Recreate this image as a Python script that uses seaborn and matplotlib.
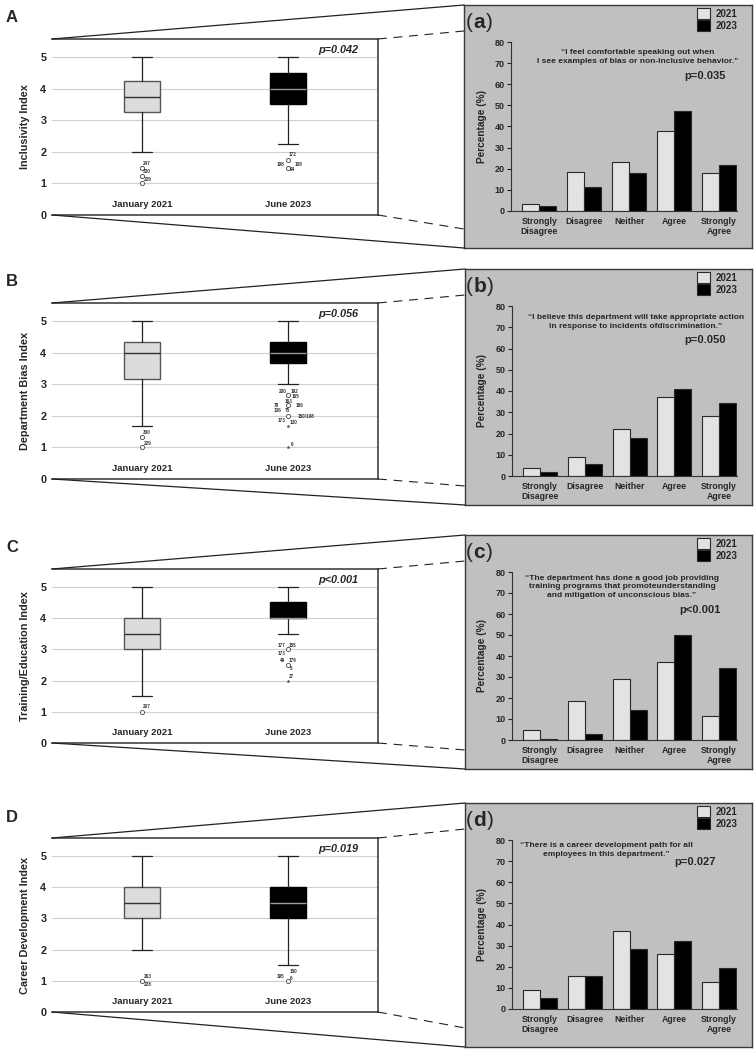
import matplotlib
matplotlib.use('Agg')
import matplotlib.pyplot as plt
from matplotlib.lines import Line2D
import seaborn as sns
import pandas as pd

sns.set_style('white')
plt.rcParams['font.family'] = ['Liberation Sans', 'DejaVu Sans']

W, H = 755, 1052

# ---- data ----
responses = ['Strongly\nDisagree', 'Disagree', 'Neither', 'Agree', 'Strongly\nAgree']
years = ['2021', '2023']
groups = ['January 2021', 'June 2023']

a_2021 = [3.2, 18.6, 23.0, 38.0, 18.0]
a_2023 = [2.5, 11.5, 18.1, 47.2, 21.6]
b_2021 = [3.8, 9.0, 22.2, 37.0, 28.3]
b_2023 = [1.8, 5.7, 18.0, 40.8, 34.4]
c_2021 = [4.6, 18.8, 29.2, 37.2, 11.2]
c_2023 = [0.3, 2.7, 14.1, 49.8, 34.2]
d_2021 = [8.8, 15.5, 37.1, 25.9, 12.6]
d_2023 = [5.0, 15.5, 28.5, 32.0, 19.6]

quotes = [
    '\u201cI feel comfortable speaking out when\nI see examples of bias or non-inclusive behavior.\u201d',
    '\u201cI believe this department will take appropriate action\nin response to incidents ofdiscrimination.\u201d',
    '\u201cThe department has done a good job providing\ntraining programs that promoteunderstanding\nand mitigation of unconscious bias.\u201d',
    '\u201cThere is a career development path for all\nemployees in this department.\u201d',
]
bar_p = ['p=0.035', 'p=0.050', 'p<0.001', 'p=0.027']

index_names = ['Inclusivity Index', 'Department Bias Index',
               'Training/Education Index', 'Career Development Index']
box_p = ['p=0.042', 'p=0.056', 'p<0.001', 'p=0.019']

# whislo, q1, median, q3, whishi
jan_stats = [[2.0, 3.25, 3.75, 4.25, 5.0], [1.67, 3.17, 4.0, 4.33, 5.0],
             [1.5, 3.0, 3.5, 4.0, 5.0], [2.0, 3.0, 3.5, 4.0, 5.0]]
jun_stats = [[2.25, 3.5, 4.0, 4.5, 5.0], [3.0, 3.67, 4.0, 4.33, 5.0],
             [3.5, 4.0, 4.0, 4.5, 5.0], [1.5, 3.0, 3.5, 4.0, 5.0]]
# outliers (circles) and extremes (stars)
jan_out = [[1.5, 1.25, 1.0], [1.33, 1.0], [1.0], [1.0]]
jun_out = [[1.75, 1.5], [2.67, 2.33, 2.0], [3.0, 2.5], [1.0]]
jun_ext = [[], [1.67, 1.0], [2.0], []]

# case numbers next to outliers: (group, value, id)
case_ids = [
    [(0, 1.5, '247'), (0, 1.25, '330'), (0, 1.0, '229'),
     (1, 1.75, '172'), (1, 1.5, '198'), (1, 1.5, '109'), (1, 1.5, '94')],
    [(0, 1.33, '300'), (0, 1.0, '229'),
     (1, 2.67, '200'), (1, 2.67, '192'), (1, 2.67, '165'),
     (1, 2.33, '78'), (1, 2.33, '163'), (1, 2.33, '186'),
     (1, 2.0, '136'), (1, 2.0, '75'), (1, 2.0, '150/198'), (1, 2.0, '173'), (1, 2.0, '130'),
     (1, 1.0, '6')],
    [(0, 1.0, '207'),
     (1, 3.0, '177'), (1, 3.0, '155'), (1, 3.0, '173'),
     (1, 2.5, '49'), (1, 2.5, '179'), (1, 2.5, '5'), (1, 2.0, '27')],
    [(0, 1.0, '263'), (0, 1.0, '228'),
     (1, 1.0, '195'), (1, 1.0, '150'), (1, 1.0, '6')],
]
# label offsets in pixels (dx, dy)
case_offsets = [
    [(5, 4), (5, 4), (5, 4), (5, 5), (-7, 3), (11, 3), (5, -2)],
    [(5, 4), (5, 4), (-5, 3), (7, 3), (8, -2), (-11, 0), (1, 4), (12, 0),
     (-10, 5), (0, 5), (18, -1), (-6, -5), (6, -7), (4, 3)],
    [(5, 5), (-6, 4), (5, 4), (-6, -4), (-5, 4), (5, 4), (3, -4), (4, 4)],
    [(6, 4), (6, -4), (-7, 4), (6, 9), (3, 2)],
]

bar_sets = [(a_2021, a_2023), (b_2021, b_2023), (c_2021, c_2023), (d_2021, d_2023)]

# ---- layout (pixels: left, top, right, bottom) ----
gray_px = [(464, 5, 752, 248), (465, 269, 752, 505), (465, 535, 752, 769), (465, 803, 752, 1047)]
box_px = [(52, 39, 378, 215), (52, 303, 378, 479), (52, 569, 378, 743), (52, 838, 378, 1012)]
bar_px = [(511, 42, 737, 211), (512, 306, 737, 476), (512, 572, 737, 740), (512, 840, 737, 1009)]
quote_xy = [(638, 57), (636, 322), (622, 587), (606, 850)]
pbar_xy = [(705, 76), (705, 340), (700, 610), (695, 862)]
letters = ['A', 'B', 'C', 'D']
subletters = ['a', 'b', 'c', 'd']


def rect(p):
    l, t, r, b = p
    return [l / W, 1 - b / H, (r - l) / W, (b - t) / H]


def fx(x):
    return x / W


def fy(y):
    return 1 - y / H


fig = plt.figure(figsize=(W / 100, H / 100), dpi=100)
renderer = fig.canvas.get_renderer()
px2pt = 0.72

for i in range(4):
    # ---------- box plot panel ----------
    ax = fig.add_axes(rect(box_px[i]))
    stats = []
    for s in (jan_stats[i], jun_stats[i]):
        stats.append(dict(whislo=s[0], q1=s[1], med=s[2], q3=s[3], whishi=s[4], fliers=[]))
    bp = ax.bxp(stats, positions=[0, 1], widths=0.25, capwidths=0.14, patch_artist=True,
                showfliers=False,
                whiskerprops=dict(color='#222222', lw=0.9),
                capprops=dict(color='#222222', lw=0.9),
                medianprops=dict(lw=1.0))
    bp['boxes'][0].set(facecolor='#dcdcdc', edgecolor='#555555', lw=1.0)
    bp['boxes'][1].set(facecolor='#000000', edgecolor='#000000', lw=1.0)
    bp['medians'][0].set_color('#333333')
    bp['medians'][1].set_color('#9a9a9a')

    ax.plot([0] * len(jan_out[i]), jan_out[i], 'o', ms=3, mfc='white', mec='#444444', mew=0.6)
    ax.plot([1] * len(jun_out[i]), jun_out[i], 'o', ms=3, mfc='white', mec='#444444', mew=0.6)
    if jun_ext[i]:
        ax.plot([1] * len(jun_ext[i]), jun_ext[i], '*', ms=2.2, color='#555555', mew=0.3)
    for (g, v, t), (dx, dy) in zip(case_ids[i], case_offsets[i]):
        ax.annotate(t, (g, v), xytext=(dx * px2pt, dy * px2pt), textcoords='offset points',
                    ha='center', va='center', fontsize=3.3, fontweight='bold', color='#333333')

    ax.set_xlim(-0.62, 1.62)
    ax.set_ylim(0, 5.57)
    ax.set_yticks(range(6))
    ax.set_xticks([])
    ax.yaxis.grid(True, color='#cfcfcf', lw=0.8)
    ax.set_axisbelow(True)
    ax.tick_params(axis='y', length=0, pad=4, labelsize=7.8)
    for lab in ax.get_yticklabels():
        lab.set_fontweight('bold')
    ax.spines['left'].set_visible(False)
    for sp in ['top', 'right', 'bottom']:
        ax.spines[sp].set_color('#333333')
        ax.spines[sp].set_linewidth(1.1)
    for g, name in enumerate(groups):
        ax.text(g, 0.33, name, ha='center', va='center', fontsize=6.8, fontweight='bold')
    ax.text(0.877, 0.937, box_p[i], transform=ax.transAxes, ha='center', va='center',
            fontsize=7.8, fontweight='bold', fontstyle='italic')

    l, t, r, b = box_px[i]
    fig.text(fx(25), fy((t + b) / 2), index_names[i], rotation=90, ha='center', va='center',
             fontsize=7.8, fontweight='bold')
    fig.text(fx(12), fy(t - 21), letters[i], ha='center', va='center', fontsize=12, fontweight='bold')

    # ---------- gray background panel ----------
    gl, gt, gr, gb = gray_px[i]
    bg = fig.add_axes(rect(gray_px[i]), zorder=0)
    bg.set_facecolor('#c0c0c0')
    bg.set_xticks([])
    bg.set_yticks([])
    for sp in bg.spines.values():
        sp.set_color('#3a3a3a')
        sp.set_linewidth(1.0)

    # ---------- bar chart ----------
    bx = fig.add_axes(rect(bar_px[i]), zorder=1)
    bx.set_facecolor('none')
    v21, v23 = bar_sets[i]
    df = pd.DataFrame({'resp': responses * 2,
                       'year': ['2021'] * 5 + ['2023'] * 5,
                       'pct': list(v21) + list(v23)})
    sns.barplot(data=df, x='resp', y='pct', hue='year', order=responses, hue_order=years,
                palette={'2021': '#e3e3e3', '2023': '#000000'}, edgecolor='#2a2a2a',
                linewidth=0.8, width=0.76, errorbar=None, ax=bx)
    handles, labels = bx.get_legend_handles_labels()
    bx.get_legend().remove()
    fig.legend(handles, labels, loc='upper right', bbox_to_anchor=(fx(737), fy(gt + 3)),
               frameon=False, handlelength=1.35, handleheight=1.35, labelspacing=0.15,
               handletextpad=0.5, borderaxespad=0, borderpad=0,
               prop=dict(weight='bold', size=7))
    bx.set_xlim(-0.63, 4.4)
    bx.set_ylim(0, 80)
    bx.set_yticks(range(0, 81, 10))
    bx.set_xlabel('')
    bx.set_ylabel('')
    sns.despine(ax=bx)
    for sp in ['left', 'bottom']:
        bx.spines[sp].set_color('#333333')
        bx.spines[sp].set_linewidth(0.8)
    bx.tick_params(axis='y', length=3, width=0.8, pad=1.5, labelsize=6.5, left=True)
    bx.tick_params(axis='x', length=0, pad=4, labelsize=6.3)
    for lab in bx.get_yticklabels() + bx.get_xticklabels():
        lab.set_fontweight('bold')
    bl, bt, br, bb = bar_px[i]
    fig.text(fx(482), fy((bt + bb) / 2), 'Percentage (%)', rotation=90, ha='center', va='center',
             fontsize=7.3, fontweight='bold')
    # "(a)": light parentheses around a bold letter
    fig.text(fx(473), fy(gt + 18), '(', ha='right', va='center', fontsize=15)
    let = fig.text(fx(473.5), fy(gt + 18), subletters[i], ha='left', va='center', fontsize=15,
                   fontweight='bold')
    x_end = let.get_window_extent(renderer).x1
    fig.text(x_end / W + 0.5 / W, fy(gt + 18), ')', ha='left', va='center', fontsize=15)
    fig.text(fx(quote_xy[i][0]), fy(quote_xy[i][1]), quotes[i], ha='center', va='center',
             multialignment='center', fontsize=6, fontweight='bold', linespacing=1.25)
    fig.text(fx(pbar_xy[i][0]), fy(pbar_xy[i][1]), bar_p[i], ha='center', va='center',
             fontsize=8, fontweight='bold')

    # ---------- zoom connector lines ----------
    fig.add_artist(Line2D([fx(l), fx(gl)], [fy(t), fy(gt)], color='#222222', lw=0.9))
    fig.add_artist(Line2D([fx(l), fx(gl)], [fy(b), fy(gb)], color='#222222', lw=0.9))
    fig.add_artist(Line2D([fx(r), fx(gl)], [fy(t), fy(gt + 26)], color='#222222', lw=0.8,
                          ls=(0, (8, 6))))
    fig.add_artist(Line2D([fx(r), fx(gl)], [fy(b), fy(gb - 19)], color='#222222', lw=0.8,
                          ls=(0, (8, 6))))

fig.savefig('out.png', dpi=100, facecolor='white')
